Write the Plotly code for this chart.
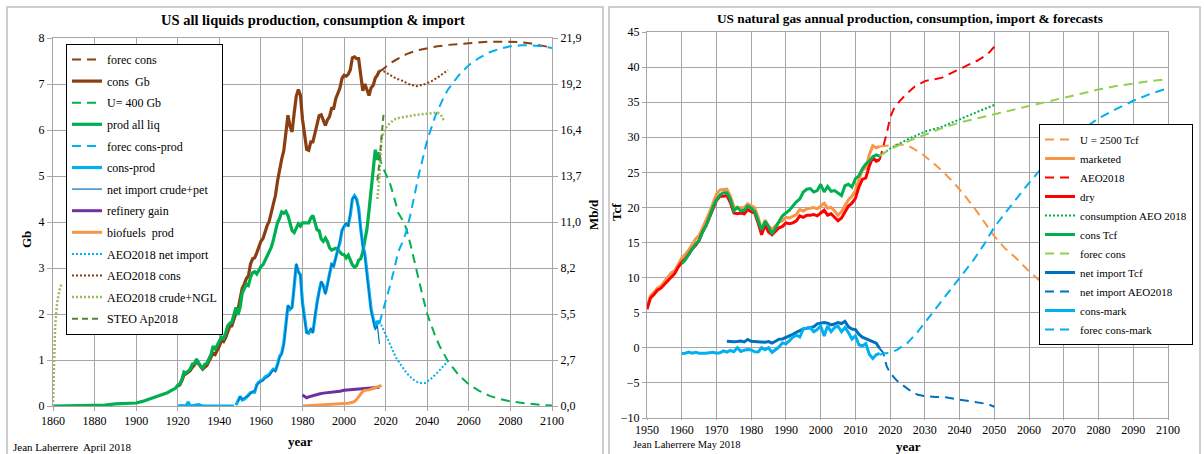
import plotly.graph_objects as go

W, H = 1204, 454
SERIF = "Liberation Serif, Times New Roman, serif"
GRID = "#A6A6A6"

# ---------------- LEFT CHART DATA (Gb/year) ----------------
PROD_EARLY_YEARS = [1860, 1865, 1870, 1875, 1880, 1885, 1890, 1895, 1900, 1903, 1905, 1908,
                    1910, 1913, 1915, 1917, 1919]
PROD_EARLY = [0.0, 0.007, 0.008, 0.01, 0.02, 0.02, 0.045, 0.05, 0.065, 0.1, 0.13, 0.18,
              0.21, 0.25, 0.29, 0.34, 0.39]
ANNUAL_1920 = list(range(1920, 2018))
PROD_ANNUAL = [0.45, 0.48, 0.58, 0.74, 0.72, 0.77, 0.80, 0.91, 0.92, 1.02,
               0.93, 0.87, 0.82, 0.91, 0.93, 1.02, 1.12, 1.30, 1.24, 1.32,
               1.42, 1.50, 1.47, 1.58, 1.74, 1.80, 1.82, 1.97, 2.14, 1.98,
               2.15, 2.45, 2.55, 2.65, 2.62, 2.80, 2.90, 2.92, 2.87, 2.96,
               3.03, 3.07, 3.17, 3.27, 3.34, 3.45, 3.61, 3.80, 3.99, 4.08,
               4.22, 4.19, 4.23, 4.14, 3.98, 3.81, 3.77, 3.85, 3.96, 3.91,
               3.98, 3.98, 3.98, 3.98, 4.09, 4.14, 3.99, 3.83, 3.81, 3.63,
               3.58, 3.65, 3.57, 3.44, 3.39, 3.42, 3.43, 3.40, 3.36, 3.30,
               3.29, 3.22, 3.28, 3.16, 3.07, 3.02, 3.05, 3.17, 3.20, 3.35,
               3.60, 3.85, 4.25, 4.75, 5.10, 5.57, 5.35, 5.52]
CONS_ANNUAL = [0.43, 0.46, 0.55, 0.68, 0.70, 0.74, 0.77, 0.84, 0.89, 0.98,
               0.91, 0.86, 0.80, 0.84, 0.88, 0.97, 1.07, 1.15, 1.12, 1.20,
               1.30, 1.42, 1.40, 1.48, 1.63, 1.73, 1.74, 1.90, 2.02, 2.10,
               2.36, 2.56, 2.65, 2.77, 2.83, 3.09, 3.20, 3.22, 3.33, 3.48,
               3.58, 3.64, 3.80, 3.92, 4.02, 4.20, 4.41, 4.58, 4.89, 5.16,
               5.37, 5.55, 5.98, 6.32, 6.08, 5.96, 6.37, 6.73, 6.88, 6.76,
               6.23, 5.86, 5.58, 5.56, 5.74, 5.74, 5.94, 6.08, 6.31, 6.33,
               6.20, 6.10, 6.22, 6.29, 6.47, 6.47, 6.68, 6.80, 6.91, 7.12,
               7.19, 7.17, 7.21, 7.31, 7.57, 7.59, 7.55, 7.55, 7.12, 6.85,
               7.00, 6.89, 6.75, 6.92, 6.97, 7.13, 7.19, 7.29]

CP_EARLY_YEARS = [1920, 1922, 1924, 1925, 1926, 1928, 1930, 1932, 1935, 1938, 1941, 1944, 1947]
CP_EARLY = [0.0, 0.01, 0.0, 0.09, 0.0, 0.02, 0.03, 0.0, 0.0, 0.0, 0.01, 0.0, 0.0]
CP_YEARS = list(range(1948, 2018))
CONS_MINUS_PROD = [0.02, 0.12, 0.21, 0.13, 0.15, 0.19, 0.23, 0.29, 0.30, 0.30,
                   0.46, 0.52, 0.55, 0.57, 0.63, 0.65, 0.68, 0.75, 0.80, 0.78,
                   0.90, 1.08, 1.15, 1.36, 1.75, 2.18, 2.10, 2.15, 2.60, 3.08,
                   2.92, 2.85, 2.25, 1.88, 1.60, 1.58, 1.65, 1.60, 1.95, 2.25,
                   2.50, 2.70, 2.62, 2.45, 2.65, 2.85, 3.08, 3.05, 3.25, 3.40,
                   3.55, 3.82, 3.90, 3.95, 3.93, 4.15, 4.50, 4.57, 4.50, 4.30,
                   3.85, 3.50, 3.30, 2.95, 2.50, 2.10, 1.90, 1.70, 1.85, 1.78]
NI_YEARS = list(range(1949, 2018))
NET_IMPORT_CRUDE_PET = [0.1, 0.2, 0.15, 0.18, 0.2, 0.22, 0.28, 0.32, 0.33, 0.44,
                        0.5, 0.52, 0.55, 0.6, 0.62, 0.66, 0.72, 0.78, 0.74, 0.88,
                        1.05, 1.12, 1.33, 1.72, 2.2, 2.12, 2.13, 2.62, 3.1, 2.9,
                        2.83, 2.2, 1.85, 1.58, 1.62, 1.7, 1.58, 1.98, 2.22, 2.52,
                        2.72, 2.6, 2.42, 2.62, 2.88, 3.1, 3.02, 3.22, 3.42, 3.58,
                        3.8, 3.93, 3.98, 3.9, 4.18, 4.52, 4.55, 4.48, 4.25, 3.8,
                        3.45, 3.25, 2.9, 2.45, 2.05, 1.85, 1.65, 1.75, 1.35]

RG_YEARS = [1980, 1981, 1982, 1983, 1985, 1988, 1990, 1993, 1995, 1998, 2000, 2003, 2005,
            2008, 2010, 2013, 2015, 2017]
REFINERY_GAIN = [0.24, 0.2, 0.18, 0.2, 0.23, 0.26, 0.28, 0.29, 0.3, 0.32, 0.34, 0.35, 0.36,
                 0.37, 0.38, 0.39, 0.4, 0.41]
BIO_YEARS = [1980, 1985, 1990, 1995, 2000, 2002, 2004, 2005, 2006, 2007, 2008, 2009, 2010,
             2012, 2014, 2016, 2018]
BIOFUELS = [0.0, 0.01, 0.02, 0.03, 0.05, 0.06, 0.08, 0.1, 0.14, 0.2, 0.27, 0.32, 0.34,
            0.35, 0.38, 0.41, 0.45]

FC_YEARS = [2017, 2018, 2020, 2022, 2024, 2026, 2028, 2030, 2035, 2040, 2045, 2050, 2055,
            2060, 2065, 2070, 2075, 2080, 2085, 2090, 2095, 2100]
FOREC_CONS = [7.29, 7.3, 7.37, 7.45, 7.5, 7.55, 7.6, 7.65, 7.73, 7.78, 7.82, 7.85, 7.87,
              7.89, 7.91, 7.92, 7.92, 7.92, 7.91, 7.88, 7.84, 7.79]
U400_YEARS = [2017, 2018, 2020, 2022, 2024, 2026, 2028, 2030, 2032, 2034, 2036, 2038, 2040,
              2042, 2044, 2046, 2048, 2050, 2055, 2060, 2065, 2070, 2075, 2080, 2085, 2090,
              2095, 2100]
U400 = [5.45, 5.25, 5.05, 4.85, 4.55, 4.2, 4.05, 3.85, 3.5, 3.1, 2.7, 2.35, 2.0,
        1.75, 1.5, 1.3, 1.12, 0.97, 0.68, 0.47, 0.33, 0.22, 0.15, 0.1, 0.07, 0.04,
        0.02, 0.01]
FCP_YEARS = [2017, 2018, 2020, 2022, 2024, 2026, 2028, 2030, 2032, 2034, 2036, 2038, 2040,
             2044, 2048, 2050, 2055, 2060, 2065, 2070, 2075, 2080, 2085, 2090, 2095, 2100]
FOREC_CONS_PROD = [1.8, 1.95, 2.3, 2.6, 2.95, 3.35, 3.55, 3.8, 4.18, 4.62, 5.04, 5.41, 5.78,
                   6.32, 6.72, 6.88, 7.18, 7.41, 7.57, 7.69, 7.77, 7.82, 7.84, 7.84, 7.82, 7.78]

AEO_NI_YEARS = [2017, 2018, 2020, 2022, 2025, 2028, 2030, 2033, 2036, 2039, 2042, 2045, 2048, 2050]
AEO_NET_IMPORT = [1.85, 1.75, 1.55, 1.35, 1.05, 0.85, 0.72, 0.58, 0.5, 0.5, 0.6, 0.73, 0.87, 0.98]
AEO_CONS_YEARS = [2017, 2019, 2022, 2025, 2028, 2031, 2035, 2039, 2042, 2045, 2048, 2050]
AEO_CONS = [7.29, 7.28, 7.2, 7.12, 7.07, 7.0, 6.95, 7.0, 7.06, 7.14, 7.24, 7.3]
AEO_NGL_YEARS = [1860, 1860.3, 1860.6, 1861, 1861.5, 1862, 1863, 1864, None,
                 2016, 2017, 2018, 2019, 2020, 2022, 2025, 2028, 2031, 2035, 2040, 2045, 2047, 2048]
AEO_CRUDE_NGL = [0.0, 0.6, 1.2, 1.7, 2.0, 2.25, 2.5, 2.65, None,
                 4.5, 5.0, 5.8, 5.95, 6.04, 6.15, 6.25, 6.28, 6.3, 6.33, 6.35, 6.38, 6.3, 6.2]
STEO_YEARS = [2016, 2017, 2018, 2019]
STEO = [4.9, 5.3, 5.85, 6.35]

MBD_TICK_TEXT = ["0,0", "2,7", "5,5", "8,2", "11,0", "13,7", "16,4", "19,2", "21,9"]
MBD_MAX = 21.9
GB_MAX = 8

# ---------------- RIGHT CHART DATA (Tcf/year) ----------------
GAS_YEARS = list(range(1950, 2018))
DRY = [5.5, 7.1, 7.6, 8.2, 8.5, 9.0, 9.6, 10.0, 10.6, 11.5,
       12.2, 12.7, 13.3, 14.1, 14.6, 15.3, 16.5, 17.4, 18.5, 19.8,
       21.0, 21.6, 21.6, 21.7, 20.7, 19.2, 19.1, 19.2, 19.1, 19.7,
       19.4, 19.2, 17.8, 16.1, 17.5, 16.5, 16.1, 16.6, 17.1, 17.3,
       17.8, 17.7, 17.8, 18.1, 18.8, 18.6, 18.9, 18.9, 19.0, 18.8,
       19.2, 19.6, 18.9, 19.1, 18.6, 18.1, 18.5, 19.3, 20.2, 20.6,
       21.3, 22.9, 24.0, 24.2, 25.9, 27.1, 26.6, 26.8]
MARKETED = [5.8, 7.4, 7.9, 8.5, 8.8, 9.4, 10.1, 10.7, 11.0, 12.0,
            12.8, 13.3, 13.9, 14.7, 15.5, 16.0, 17.2, 18.2, 19.3, 20.7,
            21.9, 22.5, 22.5, 22.6, 21.6, 20.1, 19.95, 20.0, 20.0, 20.5,
            20.2, 20.0, 18.6, 16.8, 18.2, 17.3, 16.9, 17.4, 17.9, 18.1,
            18.6, 18.5, 18.7, 19.0, 19.7, 19.5, 19.8, 19.9, 20.0, 19.8,
            20.2, 20.6, 19.9, 20.0, 19.5, 18.9, 19.4, 20.2, 21.1, 21.6,
            22.4, 24.0, 25.3, 25.6, 27.5, 28.8, 28.5, 28.7]
GCONS_YEARS = list(range(1960, 2018))
CONS_TCF = [12.0, 12.5, 13.3, 14.0, 14.8, 15.3, 16.5, 17.4, 18.6, 20.1,
            21.1, 21.8, 22.1, 22.1, 21.2, 19.5, 20.0, 19.5, 19.6, 20.2,
            19.9, 19.4, 18.0, 16.8, 18.0, 17.3, 16.2, 17.2, 18.0, 18.8,
            19.2, 19.6, 20.2, 20.8, 21.2, 22.2, 22.6, 22.7, 22.2, 22.4,
            23.3, 22.2, 23.0, 22.3, 22.4, 22.0, 21.7, 23.1, 23.3, 22.9,
            24.1, 24.5, 25.5, 26.2, 26.6, 27.2, 27.5, 27.3]
CONS_MARK = [-0.8, -0.76, -0.61, -0.78, -0.65, -0.76, -0.76, -0.78, -0.69, -0.64,
             -0.78, -0.70, -0.43, -0.60, -0.38, -0.57, 0.0, -0.51, -0.34, -0.23,
             -0.30, -0.56, -0.58, 0.02, -0.28, 0.01, -0.64, -0.22, 0.11, 0.70,
             0.58, 1.03, 1.52, 1.81, 1.54, 2.70, 2.80, 2.87, 2.29, 2.60,
             3.13, 1.67, 3.12, 2.31, 2.88, 3.08, 2.29, 2.90, 2.17, 1.26,
             1.71, 0.44, 0.26, 0.60, -0.91, -1.53, -0.99, -0.8]
GNI_YEARS = list(range(1973, 2018))
NET_IMPORT_TCF = [0.95, 0.87, 0.88, 0.90, 0.96, 0.84, 1.20,
                  0.94, 0.90, 0.88, 0.86, 0.79, 0.89, 0.69, 0.94, 1.22, 1.26,
                  1.45, 1.64, 1.92, 2.21, 2.46, 2.69, 2.78, 2.84, 2.99, 3.42,
                  3.54, 3.60, 3.50, 3.26, 3.40, 3.61, 3.46, 3.78, 2.98, 2.68,
                  2.60, 1.95, 1.52, 1.31, 1.17, 0.95, 0.67, -0.1]

AEO_PROD_YEARS = [2017, 2018, 2019, 2020, 2021, 2022, 2023, 2025, 2027, 2030, 2033, 2035,
                  2037, 2040, 2043, 2045, 2048, 2050]
AEO_PROD = [26.8, 28.5, 30.5, 32.8, 34.0, 34.7, 35.3, 36.3, 37.2, 38.0, 38.3, 38.5,
            39.0, 39.7, 40.4, 40.9, 41.8, 42.9]
AEO_GCONS_YEARS = [2017, 2020, 2025, 2030, 2035, 2040, 2045, 2050]
AEO_GCONS = [27.3, 28.4, 29.7, 30.8, 31.5, 32.6, 33.6, 34.6]
FGC_YEARS = [2017, 2020, 2025, 2030, 2035, 2040, 2045, 2050, 2055, 2060, 2065, 2070, 2075,
             2080, 2085, 2090, 2095, 2100]
FOREC_GCONS = [27.4, 28.3, 29.4, 30.4, 31.3, 32.1, 32.7, 33.3, 33.9, 34.4, 35.0, 35.6, 36.2,
               36.8, 37.3, 37.7, 38.0, 38.3]
U2500_YEARS = [2017, 2020, 2023, 2026, 2029, 2032, 2035, 2038, 2041, 2044, 2047, 2050, 2053,
               2056, 2060, 2065, 2070, 2075, 2080, 2085, 2090, 2095, 2100]
U2500 = [28.7, 28.9, 29.0, 28.6, 27.7, 26.5, 25.2, 23.7, 22.0, 20.1, 18.0, 15.9, 14.2,
         12.9, 10.9, 8.7, 6.9, 5.5, 4.3, 3.3, 2.5, 1.9, 1.4]
AEO_GNI_YEARS = [2017, 2018, 2019, 2020, 2022, 2024, 2026, 2028, 2030, 2033, 2036, 2039,
                 2042, 2045, 2048, 2050]
AEO_GNET_IMPORT = [-0.1, -0.7, -2.6, -3.6, -4.7, -5.5, -6.2, -6.7, -6.9, -7.0, -7.05, -7.3,
                   -7.55, -7.7, -8.0, -8.4]
FCM_YEARS = [2017, 2018, 2020, 2022, 2025, 2028, 2030, 2033, 2036, 2040, 2044, 2047, 2050,
             2055, 2060, 2065, 2070, 2075, 2080, 2085, 2090, 2095, 2100]
FOREC_CONS_MARK = [-1.0, -0.8, -0.7, -0.3, 0.7, 2.3, 3.6, 5.5, 7.3, 9.9, 12.5, 14.7, 17.2,
                   20.4, 23.5, 26.4, 29.0, 31.0, 32.7, 34.0, 35.2, 36.2, 37.0]

# ---------------- COLORS ----------------
BROWN = "#8B3E12"
GREEN = "#00B050"
LBLUE = "#00B0F0"
BLUE = "#0070C0"
PURPLE = "#7030A0"
ORANGE = "#F79646"
OLIVE = "#9BBB59"
DKGREEN = "#548235"
RED = "#FF0000"
LGREEN = "#92D050"

DASH = "9px,6px"
DOT = "2px,2px"

fig = go.Figure()


def add(x, y, name, color, width, dash, xa, ya, legend):
    fig.add_trace(go.Scatter(
        x=x, y=y, name=name, mode="lines", xaxis=xa, yaxis=ya,
        line=dict(color=color, width=width, dash=dash),
        legend=legend, legendgroup=legend + name, connectgaps=False,
        hoverinfo="x+y+name"))


L = "legend"
add(FC_YEARS, FOREC_CONS, "forec cons", BROWN, 2, DASH, "x", "y", L)
add(ANNUAL_1920, CONS_ANNUAL, "cons\u00a0 Gb", BROWN, 3.2, "solid", "x", "y", L)
add(U400_YEARS, U400, "U= 400 Gb", GREEN, 2, DASH, "x", "y", L)
add(PROD_EARLY_YEARS + ANNUAL_1920, PROD_EARLY + PROD_ANNUAL, "prod all liq", GREEN, 3.2, "solid", "x", "y", L)
add(FCP_YEARS, FOREC_CONS_PROD, "forec cons-prod", LBLUE, 2, DASH, "x", "y", L)
add(CP_EARLY_YEARS + [None] + CP_YEARS, CP_EARLY + [None] + CONS_MINUS_PROD, "cons-prod", LBLUE, 3.2, "solid", "x", "y", L)
add(NI_YEARS, NET_IMPORT_CRUDE_PET, "net import crude+pet", BLUE, 1.2, "solid", "x", "y", L)
add(RG_YEARS, REFINERY_GAIN, "refinery gain", PURPLE, 3, "solid", "x", "y", L)
add(BIO_YEARS, BIOFUELS, "biofuels\u00a0 prod", ORANGE, 3, "solid", "x", "y", L)
add(AEO_NI_YEARS, AEO_NET_IMPORT, "AEO2018 net import", LBLUE, 2, DOT, "x", "y", L)
add(AEO_CONS_YEARS, AEO_CONS, "AEO2018 cons", BROWN, 2, DOT, "x", "y", L)
add(AEO_NGL_YEARS, AEO_CRUDE_NGL, "AEO2018 crude+NGL", OLIVE, 2.5, DOT, "x", "y", L)
add(STEO_YEARS, STEO, "STEO Ap2018", DKGREEN, 2, "6px,4px", "x", "y", L)

# invisible copy of consumption in Mb/d so the secondary (Mb/d) axis is drawn
fig.add_trace(go.Scatter(x=ANNUAL_1920, y=[v * MBD_MAX / GB_MAX for v in CONS_ANNUAL],
                         xaxis="x", yaxis="y2", mode="lines", opacity=0,
                         line=dict(width=0.5, color=BROWN), showlegend=False, hoverinfo="skip"))

R = "legend2"
add(U2500_YEARS, U2500, "U = 2500 Tcf", ORANGE, 2, DASH, "x2", "y3", R)
add(GAS_YEARS, MARKETED, "marketed", ORANGE, 3, "solid", "x2", "y3", R)
add(AEO_PROD_YEARS, AEO_PROD, "AEO2018", RED, 2, DASH, "x2", "y3", R)
add(GAS_YEARS, DRY, "dry", RED, 3, "solid", "x2", "y3", R)
add(AEO_GCONS_YEARS, AEO_GCONS, "consumption AEO 2018", GREEN, 2, DOT, "x2", "y3", R)
add(GCONS_YEARS, CONS_TCF, "cons Tcf", GREEN, 3, "solid", "x2", "y3", R)
add(FGC_YEARS, FOREC_GCONS, "forec cons", LGREEN, 2, DASH, "x2", "y3", R)
add(GNI_YEARS, NET_IMPORT_TCF, "net import Tcf", BLUE, 3, "solid", "x2", "y3", R)
add(AEO_GNI_YEARS, AEO_GNET_IMPORT, "net import AEO2018", BLUE, 2, DASH, "x2", "y3", R)
add(GCONS_YEARS, CONS_MARK, "cons-mark", LBLUE, 3, "solid", "x2", "y3", R)
add(FCM_YEARS, FOREC_CONS_MARK, "forec cons-mark", LBLUE, 2, DASH, "x2", "y3", R)

tickfont = dict(family=SERIF, size=12, color="black")
axis_common = dict(showgrid=True, gridcolor=GRID, gridwidth=1, showline=True, linecolor=GRID,
                   linewidth=1, mirror=True, ticks="outside", tickcolor=GRID,
                   zeroline=False, tickfont=tickfont, fixedrange=True, automargin=False)

fig.update_layout(
    width=W, height=H, autosize=False,
    margin=dict(l=0, r=0, t=0, b=0, pad=0),
    paper_bgcolor="white", plot_bgcolor="white",
    font=dict(family=SERIF, color="black"),
    xaxis=dict(domain=[53 / W, 552 / W], range=[1860, 2100], tick0=1860, dtick=20,
               anchor="y", ticklen=4, **axis_common),
    yaxis=dict(domain=[1 - 406 / H, 1 - 38 / H], range=[0, GB_MAX], dtick=1, anchor="x",
               ticklen=5, **axis_common),
    yaxis2=dict(overlaying="y", side="right", anchor="x", range=[0, MBD_MAX],
                tickvals=[i * MBD_MAX / GB_MAX for i in range(len(MBD_TICK_TEXT))],
                ticktext=MBD_TICK_TEXT, showgrid=False, showline=False, ticks="outside",
                ticklen=5, tickcolor=GRID, tickfont=tickfont, zeroline=False,
                fixedrange=True, automargin=False),
    xaxis2=dict(domain=[647 / W, 1168 / W], range=[1950, 2100], tick0=1950, dtick=10,
                anchor="y3", ticklen=1, **axis_common),
    yaxis3=dict(domain=[1 - 418 / H, 1 - 32 / H], range=[-10, 45], dtick=5, anchor="x2",
                ticklen=4, **axis_common),
    legend=dict(x=66 / W, y=1 - 44 / H, xanchor="left", yanchor="top", bgcolor="white",
                bordercolor="black", borderwidth=1, traceorder="grouped", tracegroupgap=2.6,
                font=dict(family=SERIF, size=12, color="black")),
    legend2=dict(x=1039 / W, y=1 - 124 / H, xanchor="left", yanchor="top", bgcolor="white",
                 bordercolor="black", borderwidth=1, traceorder="grouped", tracegroupgap=0,
                 font=dict(family=SERIF, size=11, color="black")),
    showlegend=True,
)

ann = [
    dict(text="<b>US all liquids production, consumption & import</b>", x=313, y=20, size=14.5),
    dict(text="<b>US natural gas annual production, consumption, import & forecasts</b>", x=910, y=19, size=13.3),
    dict(text="<b>year</b>", x=300, y=441, size=13),
    dict(text="<b>year</b>", x=908, y=446, size=13),
    dict(text="Jean Laherrere  April 2018", x=72, y=447, size=11),
    dict(text="Jean Laherrere May 2018", x=687, y=444, size=10.5),
    dict(text="<b>Gb</b>", x=26, y=240, size=13, angle=-90),
    dict(text="<b>Mb/d</b>", x=593, y=215, size=13, angle=-90),
    dict(text="<b>Tcf</b>", x=616, y=212, size=13, angle=-90),
]
for a in ann:
    fig.add_annotation(text=a["text"], x=a["x"] / W, y=1 - a["y"] / H, xref="paper", yref="paper",
                       showarrow=False, xanchor="center", yanchor="middle",
                       textangle=a.get("angle", 0),
                       font=dict(family=SERIF, size=a["size"], color="black"))

# panel frames
fig.add_shape(type="rect", xref="paper", yref="paper", x0=7 / W, x1=603 / W, y0=-0.02,
              y1=1 - 7 / H, line=dict(color="#BFBFBF", width=1.5), layer="below")
fig.add_shape(type="rect", xref="paper", yref="paper", x0=609 / W, x1=1200 / W, y0=-0.02,
              y1=1 - 7 / H, line=dict(color="#BFBFBF", width=1.5), layer="below")

fig.write_html("out.html", config={"displayModeBar": False},
               post_script="document.body.style.margin='0';document.body.style.overflow='hidden';")
